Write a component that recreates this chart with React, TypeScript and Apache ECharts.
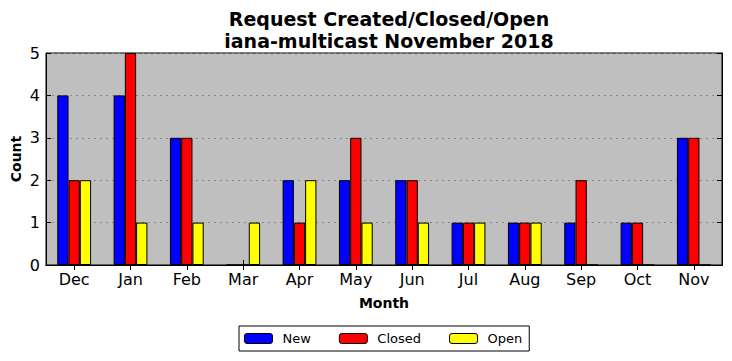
import React, { useEffect, useRef } from "react";
import * as echarts from "echarts";

const months = ["Dec", "Jan", "Feb", "Mar", "Apr", "May", "Jun", "Jul", "Aug", "Sep", "Oct", "Nov"];
const newCounts = [4, 4, 3, 0, 2, 2, 2, 1, 1, 1, 1, 3];
const closedCounts = [2, 5, 3, 0, 1, 3, 2, 1, 1, 2, 1, 3];
const openCounts = [2, 1, 1, 1, 2, 1, 1, 1, 1, 0, 0, 0];
const yTicks = [0, 1, 2, 3, 4, 5];

const FONT = "DejaVu Sans";

export default function App() {
  const ref = useRef<HTMLDivElement>(null);
  useEffect(() => {
    if (!ref.current) return;
    const chart = echarts.init(ref.current, undefined, { renderer: "svg" });
    const mkSeries = (name: string, data: number[], color: string) => ({
      name,
      type: "bar",
      data,
      barWidth: "20%",
      barGap: "0%",
      itemStyle: { color, borderColor: "#000", borderWidth: 1 },
      xAxisIndex: 0,
      yAxisIndex: 0,
    });
    chart.setOption({
      animation: false,
      textStyle: { fontFamily: FONT },
      title: {
        text: "Request Created/Closed/Open\niana-multicast November 2018",
        left: 384,
        top: 3,
        textAlign: "center",
        textStyle: { fontFamily: FONT, fontSize: 19, fontWeight: "bold", lineHeight: 22, color: "#000" },
      },
      grid: {
        left: 46,
        right: 10,
        top: 53,
        bottom: 96,
        show: true,
        backgroundColor: "#bfbfbf",
        borderColor: "#000",
        borderWidth: 1,
        containLabel: false,
        outerBoundsMode: "none",
      },
      legend: {
        data: ["New", "Closed", "Open"],
        left: 239,
        top: 326,
        orient: "horizontal",
        borderColor: "#000",
        borderWidth: 1,
        padding: [6, 7, 6, 5],
        itemWidth: 28,
        itemHeight: 10,
        itemGap: 28,
        textStyle: { fontFamily: FONT, fontSize: 13, color: "#000", padding: [0, 0, 0, 5] },
        itemStyle: { borderColor: "#000", borderWidth: 1 },
      },
      xAxis: [
        {
          type: "category",
          data: months,
          name: "Month",
          nameLocation: "middle",
          nameGap: 31,
          nameMoveOverlap: false,
          nameTextStyle: { fontFamily: FONT, fontSize: 14, fontWeight: "bold", color: "#000" },
          axisLine: { show: true, lineStyle: { color: "#000" } },
          axisTick: { show: true, inside: true, alignWithLabel: true, length: 5, lineStyle: { color: "#000" } },
          axisLabel: { fontFamily: FONT, fontSize: 16, color: "#000", margin: 6 },
          splitLine: { show: false },
        },
        {
          type: "category",
          data: months,
          position: "top",
          axisLine: { show: true, lineStyle: { color: "#000" } },
          axisTick: { show: true, inside: true, alignWithLabel: true, length: 5, lineStyle: { color: "#000" } },
          axisLabel: { show: false },
          splitLine: { show: false },
        },
      ],
      yAxis: [
        {
          type: "value",
          min: 0,
          max: 5,
          interval: 1,
          name: "Count",
          nameLocation: "middle",
          nameGap: 23,
          nameMoveOverlap: false,
          nameTextStyle: { fontFamily: FONT, fontSize: 14, fontWeight: "bold", color: "#000" },
          axisLine: { show: true, lineStyle: { color: "#000" } },
          axisTick: { show: true, inside: true, length: 5, lineStyle: { color: "#000" } },
          axisLabel: {
            fontFamily: FONT,
            fontSize: 16,
            color: "#000",
            margin: 6,
            formatter: (v: number) => (yTicks.includes(v) ? String(v) : ""),
          },
          splitLine: { show: true, lineStyle: { color: "#888", type: [2, 4], width: 1 } },
        },
        {
          type: "value",
          min: 0,
          max: 5,
          interval: 1,
          position: "right",
          axisLine: { show: true, lineStyle: { color: "#000" } },
          axisTick: { show: true, inside: true, length: 5, lineStyle: { color: "#000" } },
          axisLabel: { show: false },
          splitLine: { show: false },
        },
      ],
      series: [
        mkSeries("New", newCounts, "#0000ff"),
        mkSeries("Closed", closedCounts, "#ff0000"),
        mkSeries("Open", openCounts, "#ffff00"),
      ],
    });
    return () => chart.dispose();
  }, []);
  return <div ref={ref} style={{ position: "absolute", left: 0, top: 0, width: 732, height: 361 }} />;
}
